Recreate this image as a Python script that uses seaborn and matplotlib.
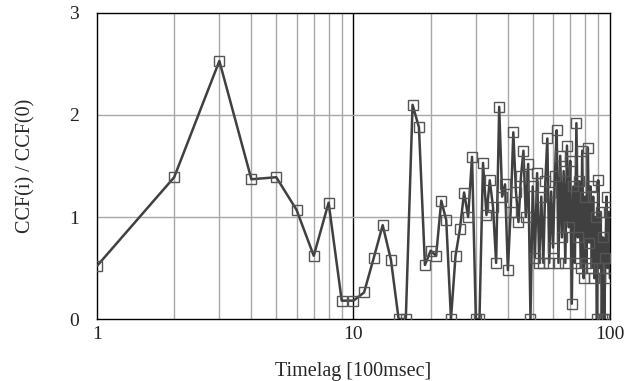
import matplotlib
matplotlib.use("Agg")
import matplotlib.pyplot as plt
import seaborn as sns
import numpy as np
import pandas as pd

lags = list(range(1, 101))
ccf_ratio = [
    0.52, 1.39, 2.53, 1.37, 1.39, 1.07, 0.62, 1.14, 0.18, 0.18,
    0.26, 0.60, 0.92, 0.58, 0.00, 0.00, 2.10, 1.88, 0.53, 0.67,
    0.62, 1.16, 0.97, 0.00, 0.62, 0.88, 1.24, 1.00, 1.59, 0.00,
    0.00, 1.53, 1.02, 1.36, 1.10, 0.55, 2.08, 1.20, 1.32, 0.48,
    1.05, 1.83, 1.25, 0.95, 1.40, 1.65, 1.00, 1.52, 0.00, 1.30,
    0.60, 1.43, 0.55, 1.20, 0.55, 1.35, 1.77, 0.55, 1.25, 0.70,
    1.40, 1.85, 0.55, 1.60, 0.80, 1.45, 0.55, 1.70, 0.90, 1.55,
    0.15, 1.30, 0.55, 1.92, 0.80, 1.35, 0.50, 1.65, 0.40, 1.20,
    0.55, 1.68, 0.75, 1.30, 0.50, 1.20, 0.40, 1.00, 0.00, 1.36,
    0.50, 1.05, 0.00, 0.80, 0.00, 0.60, 1.20, 0.50, 1.05, 0.40,
]
x_ticks = [1, 10, 100]
x_tick_labels = ["1", "10", "100"]
y_ticks = [0, 1, 2, 3]

df = pd.DataFrame({"lag": lags, "ratio": ccf_ratio})

sns.set_style("white")
plt.rcParams["font.family"] = ["Liberation Serif", "DejaVu Serif"]

fig = plt.figure(figsize=(6.44, 3.81), dpi=100)
ax = fig.add_axes([0.1506, 0.1627, 0.7965, 0.8032])

ax.set_xscale("log")
ax.set_xlim(1, 100)
ax.set_ylim(0, 3)

# grid
minor = [v * d for d in (1, 10) for v in range(2, 10)]
for m in minor:
    ax.axvline(m, color="#a8a8a8", lw=1.0, zorder=0)
ax.axvline(10, color="black", lw=1.0, zorder=0)
for h in (1, 2):
    ax.axhline(h, color="#a8a8a8", lw=1.0, zorder=0)

sns.lineplot(data=df, x="lag", y="ratio", ax=ax, color="#404040", lw=1.8,
             marker="s", markersize=7.5, markerfacecolor="none",
             markeredgecolor="#555555", markeredgewidth=1.0, zorder=3)

ax.set_xticks(x_ticks)
ax.set_xticklabels(x_tick_labels)
ax.set_xticks([], minor=True)
ax.set_yticks(y_ticks)
ax.tick_params(axis="both", length=0, labelsize=14, colors="#222222")
ax.tick_params(axis="x", pad=5)
ax.tick_params(axis="y", pad=13)

for s in ax.spines.values():
    s.set_color("black")
    s.set_linewidth(1.0)

ax.set_xlabel("Timelag [100msec]", fontsize=14.5, labelpad=14)
ax.set_ylabel("CCF(i) / CCF(0)", fontsize=14.5, labelpad=24)

fig.savefig("out.png", dpi=100)
